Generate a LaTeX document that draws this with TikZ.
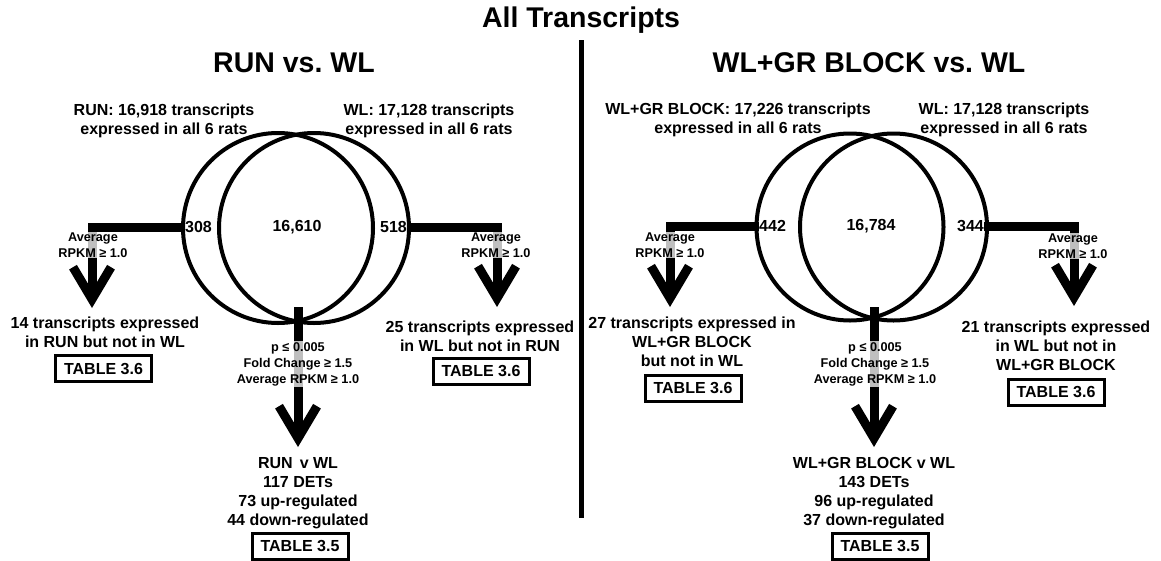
\documentclass[tikz,border=0pt]{standalone}
\usepackage{fontspec}
\setmainfont{Liberation Sans}
\usetikzlibrary{arrows.meta}
\frenchspacing

\begin{document}
\begin{tikzpicture}[x=1pt,y=-1pt,
  headline/.style={font=\fontsize{28.5}{33}\selectfont\bfseries, inner sep=0pt},
  lbl/.style={font=\fontsize{16}{19}\selectfont\bfseries, align=center, inner sep=0pt},
  crit/.style={font=\fontsize{12.7}{16}\selectfont\bfseries, align=center, inner sep=1pt,
    fill=white, fill opacity=0.75, text opacity=1},
  tbl/.style={draw, line width=3pt, minimum width=96pt, minimum height=26pt, inner sep=0pt,
    font=\fontsize{16}{19}\selectfont\bfseries},
  vennset/.style={circle, draw, line width=4pt, inner sep=0pt},
  flow/.style={line width=9pt, -{Straight Barb[length=32pt, width=38pt, sharp]}},
  divider/.style={line width=5pt},
]
\fill[white] (0,0) rectangle (1161,560);
\useasboundingbox (0,0) rectangle (1161,560);

% titles and central divider
\node[headline] (title) at (581,20) {All Transcripts};
\node[headline] (headA) at (294,63) {RUN vs. WL};
\node[headline] (headB) at (869,63) {WL+GR BLOCK vs. WL};
\coordinate (divtop) at (581.5,40);
\coordinate (divbot) at (581.5,518);
\draw[divider] (divtop) -- (divbot);

% ---------- RUN vs. WL ----------
\node[lbl] (hdrRun) at (164,120.5) {RUN: 16,918 transcripts\\expressed in all 6 rats};
\node[lbl] (hdrWLa) at (429,120.5) {WL: 17,128 transcripts\\expressed in all 6 rats};
\node[vennset, minimum size=190pt] (cRun) at (278,228) {};
\node[vennset, minimum size=190pt] (cWLa) at (314,228) {};
\node[lbl, anchor=west] (n308) at (185,227) {308};
\node[lbl] (n16610) at (297,227) {16,610};
\node[lbl, anchor=east] (n518) at (407,227) {518};

\node[lbl] (t14) at (105,332.5) {14 transcripts expressed\\in RUN but not in WL};
\node[tbl] (tabA1) at (103.5,368.5) {TABLE 3.6};
\node[lbl] (t25) at (480,336) {25 transcripts expressed\\in WL but not in RUN};
\node[tbl] (tabA2) at (481,371) {TABLE 3.6};
\node[lbl] (detA) at (298,493) {RUN\, v WL\\117 DETs\\73 up-regulated\\44 down-regulated};
\node[tbl] (tabA3) at (300,546) {TABLE 3.5};

\coordinate (tipA1) at (92,308);
\coordinate (tipA2) at (497,307);
\coordinate (srcA3) at (298,307);
\coordinate (tipA3) at (298,447);
\draw[flow] (n308.west) -| (tipA1);
\draw[flow] (n518.east) -| (tipA2);
\draw[flow] (srcA3) -- (tipA3);
\node[crit] (critA1) at (93,245) {Average\\RPKM ≥ 1.0};
\node[crit] (critA2) at (496,245) {Average\\RPKM ≥ 1.0};
\node[crit] (critA3) at (298,364) {p ≤ 0.005\\Fold Change ≥ 1.5\\Average RPKM ≥ 1.0};

% ---------- WL+GR BLOCK vs. WL ----------
\node[lbl] (hdrGR) at (738,120) {WL+GR BLOCK: 17,226 transcripts\\expressed in all 6 rats};
\node[lbl] (hdrWLb) at (1004,120) {WL: 17,128 transcripts\\expressed in all 6 rats};
\node[vennset, minimum size=187pt] (cGR) at (850,227) {};
\node[vennset, minimum size=187pt] (cWLb) at (893.5,227) {};
\node[lbl, anchor=west] (n442) at (759,226) {442};
\node[lbl] (n16784) at (871,226) {16,784};
\node[lbl, anchor=east] (n344) at (984,226) {344};

\node[lbl] (t27) at (692,341.5) {27 transcripts expressed in\\WL+GR BLOCK\\but not in WL};
\node[tbl] (tabB1) at (693,388) {TABLE 3.6};
\node[lbl] (t21) at (1056,346) {21 transcripts expressed\\in WL but not in\\WL+GR BLOCK};
\node[tbl] (tabB2) at (1056,392) {TABLE 3.6};
\node[lbl] (detB) at (874,493) {WL+GR BLOCK v WL\\143 DETs\\96 up-regulated\\37 down-regulated};
\node[tbl] (tabB3) at (880,546) {TABLE 3.5};

\coordinate (tipB1) at (670,307);
\coordinate (tipB2) at (1074,306);
\coordinate (srcB3) at (874,307);
\coordinate (tipB3) at (874,447);
\draw[flow] (n442.west) -| (tipB1);
\draw[flow] (n344.east) -| (tipB2);
\draw[flow] (srcB3) -- (tipB3);
\node[crit] (critB1) at (670,245) {Average\\RPKM ≥ 1.0};
\node[crit] (critB2) at (1073,246) {Average\\RPKM ≥ 1.0};
\node[crit] (critB3) at (875,364) {p ≤ 0.005\\Fold Change ≥ 1.5\\Average RPKM ≥ 1.0};
\end{tikzpicture}
\end{document}
